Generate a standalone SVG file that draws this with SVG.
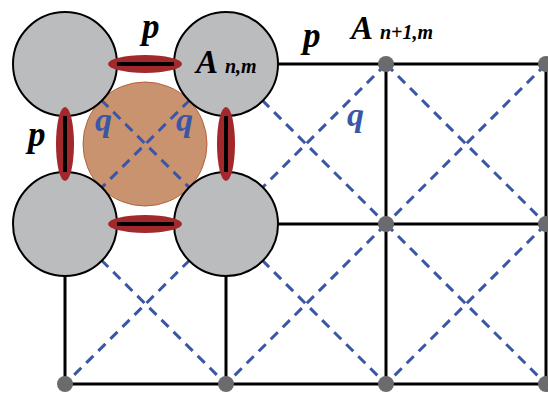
<svg xmlns="http://www.w3.org/2000/svg" width="548" height="394" viewBox="0 0 548 394">
<style>
.grid{stroke:#000;stroke-width:3;fill:none}
.diag{stroke:#3a56a6;stroke-width:3;stroke-dasharray:10 7;fill:none}
.site{fill:#bbbcbe;stroke:#000;stroke-width:2}
.dot{fill:#6b6b6d}
.bond{fill:#a3282c}
.bondline{stroke:#000;stroke-width:4}
.lbl{font-family:"Liberation Serif",serif;font-weight:bold;font-style:italic;fill:#000}
.q{font-family:"Liberation Serif",serif;font-weight:bold;font-style:italic;fill:#3a56a6;font-size:34px}
</style>
<rect width="548" height="394" fill="#fff"/>
<g id="connectors">
  <g id="grid-lines">
    <line class="grid" x1="65" y1="64" x2="546" y2="64"/>
    <line class="grid" x1="65" y1="224" x2="546" y2="224"/>
    <line class="grid" x1="65" y1="384" x2="546" y2="384"/>
    <line class="grid" x1="65" y1="64" x2="65" y2="384"/>
    <line class="grid" x1="226" y1="64" x2="226" y2="384"/>
    <line class="grid" x1="386" y1="64" x2="386" y2="384"/>
    <line class="grid" x1="546" y1="64" x2="546" y2="384"/>
  </g>
</g>
<g id="plaquette">
  <circle cx="145" cy="144" r="62" fill="#c9936f" stroke="#b5613a" stroke-width="1"/>
</g>
<g id="diagonals">
  <line class="diag" x1="65" y1="64" x2="226" y2="224"/>
  <line class="diag" x1="226" y1="64" x2="65" y2="224"/>
  <line class="diag" x1="226" y1="64" x2="386" y2="224"/>
  <line class="diag" x1="386" y1="64" x2="226" y2="224"/>
  <line class="diag" x1="386" y1="64" x2="546" y2="224"/>
  <line class="diag" x1="546" y1="64" x2="386" y2="224"/>
  <line class="diag" x1="65" y1="224" x2="226" y2="384"/>
  <line class="diag" x1="226" y1="224" x2="65" y2="384"/>
  <line class="diag" x1="226" y1="224" x2="386" y2="384"/>
  <line class="diag" x1="386" y1="224" x2="226" y2="384"/>
  <line class="diag" x1="386" y1="224" x2="546" y2="384"/>
  <line class="diag" x1="546" y1="224" x2="386" y2="384"/>
</g>
<g id="site-0-0"><circle class="site" cx="65" cy="64" r="52"/></g>
<g id="site-1-0"><circle class="site" cx="226" cy="64" r="52"/></g>
<g id="site-0-1"><circle class="site" cx="65" cy="224" r="52"/></g>
<g id="site-1-1"><circle class="site" cx="226" cy="224" r="52"/></g>
<g id="bond-top"><ellipse class="bond" cx="145" cy="64" rx="37" ry="9"/><line class="bondline" x1="117" y1="64" x2="174" y2="64"/></g>
<g id="bond-bottom"><ellipse class="bond" cx="145" cy="224" rx="37" ry="9"/><line class="bondline" x1="117" y1="224" x2="174" y2="224"/></g>
<g id="bond-left"><ellipse class="bond" cx="65" cy="144" rx="9" ry="37"/><line class="bondline" x1="65" y1="116" x2="65" y2="172"/></g>
<g id="bond-right"><ellipse class="bond" cx="226" cy="144" rx="9" ry="37"/><line class="bondline" x1="226" y1="116" x2="226" y2="172"/></g>
<g id="dot-2-0"><circle class="dot" cx="386" cy="64" r="8"/></g>
<g id="dot-3-0"><circle class="dot" cx="546" cy="64" r="8"/></g>
<g id="dot-2-1"><circle class="dot" cx="386" cy="224" r="8"/></g>
<g id="dot-3-1"><circle class="dot" cx="546" cy="224" r="8"/></g>
<g id="dot-0-2"><circle class="dot" cx="65" cy="384" r="8"/></g>
<g id="dot-1-2"><circle class="dot" cx="226" cy="384" r="8"/></g>
<g id="dot-2-2"><circle class="dot" cx="386" cy="384" r="8"/></g>
<g id="dot-3-2"><circle class="dot" cx="546" cy="384" r="8"/></g>
<g id="labels">
  <text class="lbl" x="142" y="38" font-size="35">p</text>
  <text class="lbl" x="28" y="146" font-size="35">p</text>
  <text class="lbl" x="303" y="47" font-size="35">p</text>
  <text class="lbl" x="196" y="73" font-size="33">A</text>
  <text class="lbl" x="225" y="73" font-size="20">n,m</text>
  <text class="lbl" x="351" y="39" font-size="33">A</text>
  <text class="lbl" x="380" y="39" font-size="20">n+1,m</text>
  <text class="q" x="95" y="131">q</text>
  <text class="q" x="176" y="131">q</text>
  <text class="q" x="347" y="126">q</text>
</g>
</svg>
